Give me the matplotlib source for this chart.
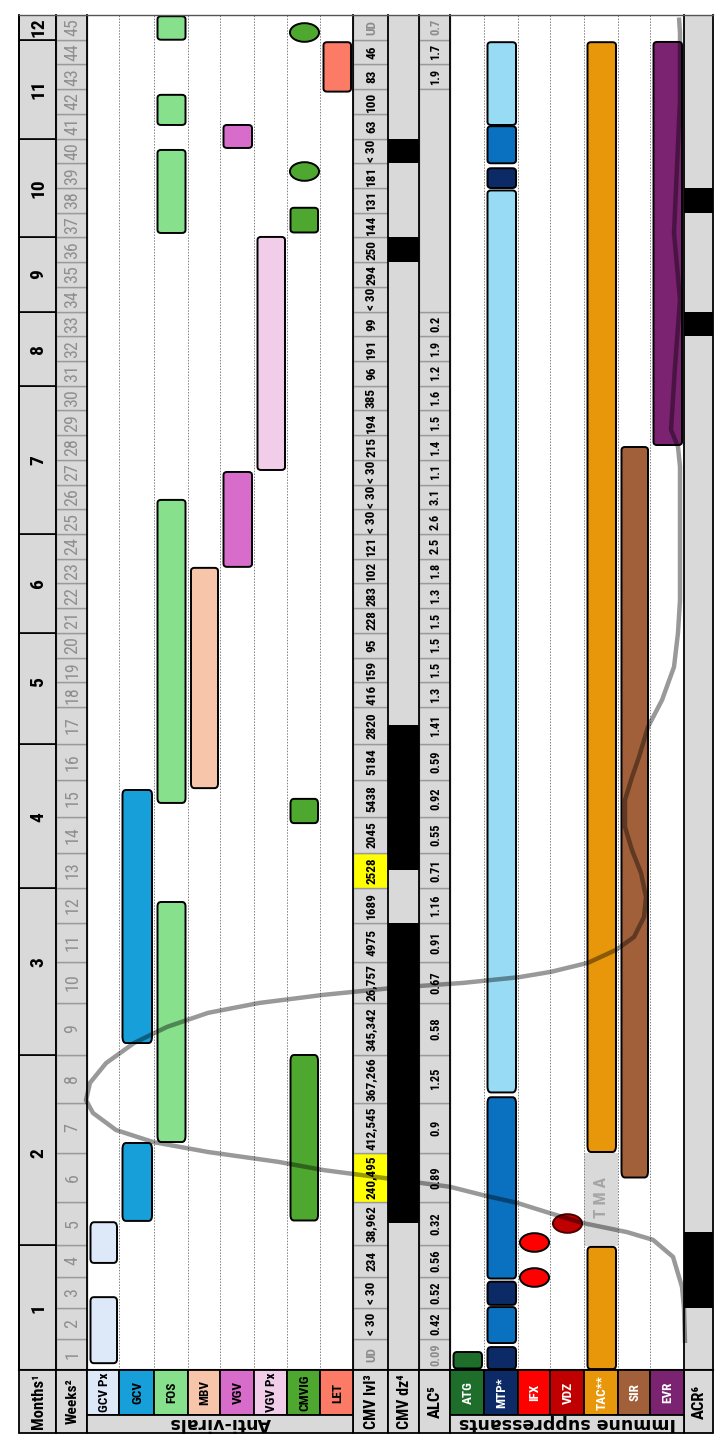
import numpy as np
import matplotlib
matplotlib.use('Agg')
import matplotlib.pyplot as plt
from matplotlib import font_manager
from matplotlib.patches import Rectangle, FancyBboxPatch
from matplotlib.path import Path
from matplotlib.transforms import Affine2D

# ---------------- data ----------------
week_numbers = list(range(1, 46))
month_labels = [str(m) for m in range(1, 13)]
month_first_week = [1, 5, 9, 13, 17, 21, 25, 31, 34, 37, 41, 45]

cmv_level = ['UD', '< 30', '< 30', '234', '38,962', '240,495', '412,545', '367,266',
             '345,342', '26,757', '4975', '1689', '2528', '2045', '5438', '5184', '2820',
             '416', '159', '95', '228', '283', '102', '121', '< 30', '< 30', '< 30', '215',
             '194', '385', '96', '191', '99', '< 30', '294', '250', '144', '131', '181',
             '< 30', '63', '100', '83', '46', 'UD']
cmv_level_flagged_weeks = [6, 13]
cmv_level_muted_weeks = [1, 45]

alc_values = ['0.09', '0.42', '0.52', '0.56', '0.32', '0.89', '0.9', '1.25', '0.58', '0.67',
              '0.91', '1.16', '0.71', '0.55', '0.92', '0.59', '1.41', '1.3', '1.5', '1.5',
              '1.5', '1.3', '1.8', '2.5', '2.6', '3.1', '1.1', '1.4', '1.5', '1.6', '1.2',
              '1.9', '0.2', None, None, None, None, None, None, None, None, None,
              '1.9', '1.7', '0.7']
alc_muted_weeks = [1, 45]

cmv_disease_weeks = [(5.0, 11.5), (13.0, 17.0), (35.5, 36.5), (39.5, 40.5)]
acr_weeks = [(2.5, 4.8), (32.5, 33.5), (37.5, 38.5)]

antiviral_labels = ['GCV Px', 'GCV', 'FOS', 'MBV', 'VGV', 'VGV Px', 'CMVIG', 'LET']
antiviral_colors = ['#dde9f8', '#169fd8', '#86e08c', '#f7c6aa', '#d86ccb', '#f1cdea',
                    '#4ea72e', '#fc7b67']
antiviral_courses = [
    [(0.72, 2.85), (3.94, 5.03)],
    [(5.06, 6.7), (8.73, 15.23)],
    [(6.72, 12.1), (14.88, 25.88), (36.68, 40.04), (41.05, 42.27), (44.5, 45.45)],
    [(15.28, 23.13)],
    [(23.17, 27.01), (40.12, 41.05)],
    [(27.09, 36.52)],
    [(5.07, 8.5), (14.33, 14.99), (36.7, 37.7)],
    [(42.4, 44.4)],
]
cmvig_single_doses = [39.2, 44.8]

immuno_labels = ['ATG', 'MTP*', 'IFX', 'VDZ', 'TAC**', 'SIR', 'EVR']
immuno_colors = ['#1e6d2b', '#0b2a66', '#ff0000', '#c00000', '#e8970b', '#a1603a', '#7b2270']
atg_courses = [(0.55, 1.08)]
mtp_high_courses = [(0.53, 1.24), (2.6, 3.35), (38.5, 39.3)]
mtp_mid_courses = [(1.37, 2.53), (3.45, 7.62), (39.5, 41.0)]
mtp_low_courses = [(7.72, 38.4), (41.05, 44.4)]
mtp_shades = ['#0b2a66', '#0a70c0', '#97dbf5']
ifx_doses = [3.5, 4.57]
vdz_doses = [5.01]
tac_courses = [(0.53, 4.44), (6.52, 44.4)]
tma_weeks = (4.47, 6.5)
sir_courses = [(6.0, 28.02)]
evr_courses = [(28.1, 44.41)]

viral_curve_x = [685, 684, 682, 673, 653, 627, 583, 550, 517, 483, 450, 384, 324, 278, 208,
                 153, 116, 93, 86, 90, 106, 134, 167, 208, 259, 324, 394, 463, 519, 551, 588,
                 616, 634, 644, 646, 641, 632, 625, 625, 632, 639, 648, 662, 674, 678, 680,
                 680, 680, 678, 671, 675, 680, 674, 677, 680, 680, 679]
viral_curve_week = [1.37, 2.5, 3.18, 4.13, 4.62, 4.8, 5.01, 5.24, 5.48, 5.64, 5.81, 5.99,
                    6.15, 6.32, 6.52, 6.72, 6.96, 7.3, 7.56, 7.92, 8.33, 8.73, 9.04, 9.31,
                    9.5, 9.7, 9.87, 9.99, 10.13, 10.26, 10.48, 10.81, 11.14, 11.67, 12.24,
                    12.93, 13.58, 14.22, 14.96, 15.58, 16.14, 16.96, 17.78, 19.12, 20.5,
                    21.83, 24.54, 27.22, 28.03, 28.72, 31.27, 33.98, 36.69, 39.36, 42.08,
                    44.79, 45.4]

# ---------------- layout ----------------
W, H = 726, 1448
BODY_TOP, BODY_BOT = 15, 1370
LABEL_BOT, HDR_BOT = 1415, 1433
col_edges = [18.5, 56, 87, 119, 154, 187.5, 220, 254, 287, 320, 353, 388, 419, 450,
             484, 518, 550, 584, 618, 650, 684, 713]
week_px = [31, 31, 31, 32, 43, 49, 50, 48, 52, 41, 39, 35, 35, 36, 37, 36, 37] + [24.714] * 28
edges_px = BODY_BOT - np.concatenate([[0], np.cumsum(week_px)])
edges_w = np.arange(0.5, 46.0, 1.0)
ew = np.concatenate([[edges_w[0] - 1000], edges_w, [edges_w[-1] + 1000]])
ep = np.concatenate([[edges_px[0] + 31000], edges_px, [edges_px[-1] - 24714]])


def fwd(w):
    return -np.interp(np.asarray(w, float), ew, ep)


def inv(v):
    return np.interp(-np.asarray(v, float), ep[::-1], ew[::-1])


GRAY = '#d9d9d9'
CELL_EDGE = '#9a9a9a'
avail = {f.name for f in font_manager.fontManager.ttflist}
cond = next((f for f in ['Liberation Sans Narrow', 'Roboto Condensed', 'Arial Narrow',
                         'Liberation Sans'] if f in avail), 'DejaVu Sans')
FAM = [cond, 'DejaVu Sans']

fig = plt.figure(figsize=(W / 100, H / 100), dpi=100)
fig.patch.set_facecolor('white')
ax = fig.add_axes([0, (H - BODY_BOT) / H, 1, (BODY_BOT - BODY_TOP) / H])
ax.set_xlim(0, W)
ax.set_yscale('function', functions=(fwd, inv))
ax.set_ylim(0.5, 45.5)
ax.set_axis_off()

hx = fig.add_axes([0, 0, 1, (H - BODY_BOT) / H])
hx.set_xlim(0, W)
hx.set_ylim(H, BODY_BOT)
hx.set_axis_off()


def col(i):
    return col_edges[i], col_edges[i + 1]


def cell(a, ci, lo, hi, fc, ec, lw=1.0, z=1):
    x0, x1 = col(ci)
    a.add_patch(Rectangle((x0, lo), x1 - x0, hi - lo, fc=fc, ec=ec, lw=lw, zorder=z))


def vtext(a, x, y, s, size, color='black', weight='bold', fam=None, rot=90, z=5):
    a.text(x, y, s, rotation=rot, ha='center', va='center', rotation_mode='anchor',
           fontsize=size, color=color, fontweight=weight, family=fam or FAM, zorder=z)


def cx(ci):
    x0, x1 = col(ci)
    return (x0 + x1) / 2


# months
month_last_week = month_first_week[1:] + [46]
for lab, a, b in zip(month_labels, month_first_week, month_last_week):
    cell(ax, 0, a - 0.5, b - 0.5, GRAY, 'black', 1.2)
    vtext(ax, cx(0) + 1, (a + b - 1) / 2, lab, 14)

# weeks, CMV level, ALC
for wk in week_numbers:
    cell(ax, 1, wk - 0.5, wk + 0.5, GRAY, CELL_EDGE, 1.0)
    vtext(ax, cx(1) + 1, wk, str(wk), 13, color='#8f8f8f', weight='normal')
    fc = '#ffff00' if wk in cmv_level_flagged_weeks else GRAY
    cell(ax, 10, wk - 0.5, wk + 0.5, fc, CELL_EDGE, 1.0)
    vtext(ax, cx(10) + 1, wk, cmv_level[wk - 1], 9.5,
          color='#8c8c8c' if wk in cmv_level_muted_weeks else 'black')
    v = alc_values[wk - 1]
    if v is not None:
        cell(ax, 12, wk - 0.5, wk + 0.5, GRAY, CELL_EDGE, 1.0)
        vtext(ax, cx(12) + 1, wk, v, 9,
              color='#8c8c8c' if wk in alc_muted_weeks else 'black')
blank = [i + 1 for i, v in enumerate(alc_values) if v is None]
cell(ax, 12, blank[0] - 0.5, blank[-1] + 0.5, GRAY, CELL_EDGE, 1.0)

# CMV disease and ACR columns
cell(ax, 11, 0.5, 45.5, GRAY, 'none', 0)
for a, b in cmv_disease_weeks:
    cell(ax, 11, a, b, 'black', 'none', 0, z=2)
cell(ax, 20, 0.5, 45.5, GRAY, 'none', 0)
for a, b in acr_weeks:
    cell(ax, 20, a, b, 'black', 'none', 0, z=2)

# TMA band
cell(ax, 17, tma_weeks[0], tma_weeks[1], GRAY, 'none', 0)
vtext(ax, cx(17) + 1, 5.6, 'T M A', 12.5, color='#a6a6a6', z=2)

# dotted separators
for i in list(range(3, 10)) + list(range(14, 20)):
    ax.plot([col_edges[i]] * 2, [0.5, 45.5], ls=(0, (1.5, 1.5)), color='#808080',
            lw=0.7, zorder=1.5)


def bar(ci, a, b, color):
    x0, x1 = col(ci)
    ax.add_patch(FancyBboxPatch((x0 + 3.5, a), (x1 - x0) - 5.5, b - a,
                                boxstyle='round,pad=0,rounding_size=3.5',
                                mutation_aspect=1 / 28, fc=color, ec='black', lw=1.4,
                                zorder=3))


ELL = Path.unit_circle().transformed(Affine2D().scale(1, 0.64))


def dots(ci, ws, color, ec='black'):
    ax.scatter([cx(ci)] * len(ws), ws, marker=ELL, s=440, fc=color, ec=ec, lw=1.4,
               zorder=4)


for i, (courses, color) in enumerate(zip(antiviral_courses, antiviral_colors)):
    for a, b in courses:
        bar(2 + i, a, b, color)
dots(8, cmvig_single_doses, antiviral_colors[6])

for a, b in atg_courses:
    bar(13, a, b, immuno_colors[0])
for courses, shade in zip([mtp_high_courses, mtp_mid_courses, mtp_low_courses], mtp_shades):
    for a, b in courses:
        bar(14, a, b, shade)
dots(15, ifx_doses, immuno_colors[2])
dots(16, vdz_doses, immuno_colors[3], ec='#4a0000')
for a, b in tac_courses:
    bar(17, a, b, immuno_colors[4])
for a, b in sir_courses:
    bar(18, a, b, immuno_colors[5])
for a, b in evr_courses:
    bar(19, a, b, immuno_colors[6])

# viral load curve
ax.plot(viral_curve_x, viral_curve_week, color='black', alpha=0.4, lw=3.2,
        solid_capstyle='butt', solid_joinstyle='round', zorder=7)

# borders
solid = [0, 1, 2, 10, 11, 12, 13, 20, 21]
for i in solid:
    ax.plot([col_edges[i]] * 2, [0.5, 45.5], color='black', lw=1.3, zorder=8,
            clip_on=False)
ax.plot([col_edges[0], col_edges[-1]], [45.5, 45.5], color='#555555', lw=1.0, zorder=8,
        clip_on=False)
ax.plot([col_edges[0], col_edges[-1]], [0.5, 0.5], color='black', lw=1.5, zorder=8,
        clip_on=False)

# ---------------- header ----------------
sup = {'Months': 'Months\u00b9', 'Weeks': 'Weeks\u00b2', 'CMV lvl': 'CMV lvl\u00b3',
       'CMV dz': 'CMV dz\u2074', 'ALC': 'ALC\u2075', 'ACR': 'ACR\u2076'}
hsize = {'Months': 12, 'Weeks': 11, 'CMV lvl': 11.5, 'CMV dz': 11.5, 'ALC': 12,
         'ACR': 12}


def hcell(ci, top, bot, fc):
    x0, x1 = col(ci)
    hx.add_patch(Rectangle((x0, top), x1 - x0, bot - top, fc=fc, ec='black', lw=1.3))


for ci, key in [(0, 'Months'), (1, 'Weeks'), (10, 'CMV lvl'), (11, 'CMV dz'), (12, 'ALC'),
                (20, 'ACR')]:
    hcell(ci, BODY_BOT, HDR_BOT, GRAY)
    vtext(hx, cx(ci) + 1, (BODY_BOT + HDR_BOT) / 2, sup[key], hsize[key])

for i, (lab, color) in enumerate(zip(antiviral_labels, antiviral_colors)):
    hcell(2 + i, BODY_BOT, LABEL_BOT, color)
    vtext(hx, cx(2 + i) + 1, (BODY_BOT + LABEL_BOT) / 2, lab, 9.5)
for i, (lab, color) in enumerate(zip(immuno_labels, immuno_colors)):
    hcell(13 + i, BODY_BOT, LABEL_BOT, color)
    vtext(hx, cx(13 + i) + 1, (BODY_BOT + LABEL_BOT) / 2, lab, 9.5, color='white')

hx.add_patch(Rectangle((col_edges[2], LABEL_BOT), col_edges[10] - col_edges[2],
                       HDR_BOT - LABEL_BOT, fc=GRAY, ec='black', lw=1.3))
vtext(hx, (col_edges[2] + col_edges[10]) / 2, (LABEL_BOT + HDR_BOT) / 2 - 1, 'Anti-virals',
      12.5, fam=['DejaVu Sans'], rot=180)
hx.add_patch(Rectangle((col_edges[13], LABEL_BOT), col_edges[20] - col_edges[13],
                       HDR_BOT - LABEL_BOT, fc=GRAY, ec='black', lw=1.3))
vtext(hx, (col_edges[13] + col_edges[20]) / 2, (LABEL_BOT + HDR_BOT) / 2 - 1,
      'Immune suppressants', 12.5, fam=['DejaVu Sans'], rot=180)

fig.savefig('out.png', dpi=100, facecolor='white')
